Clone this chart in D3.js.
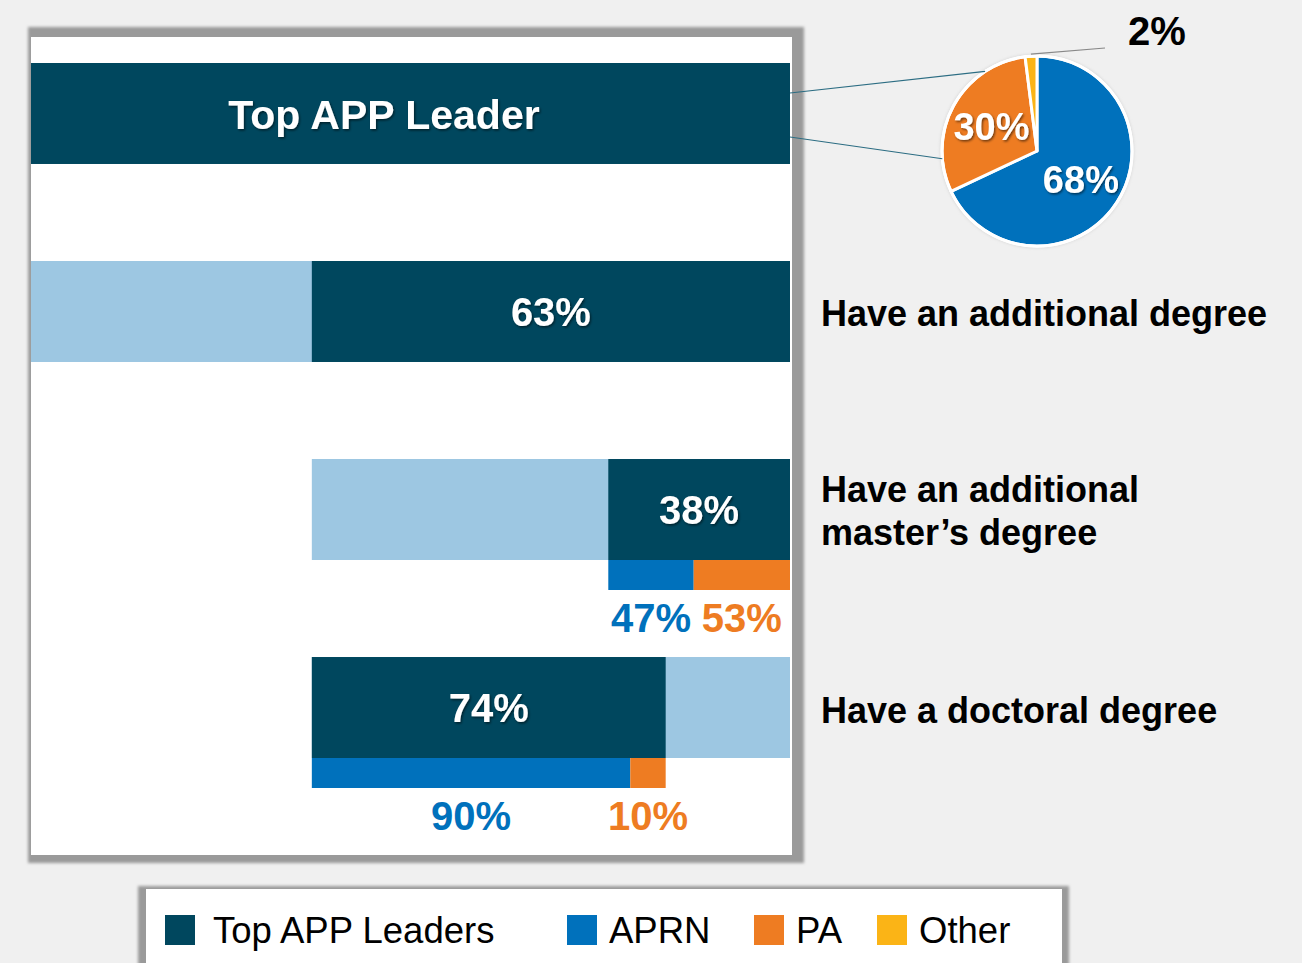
<!DOCTYPE html>
<html>
<head>
<meta charset="utf-8">
<script src="https://cdn.jsdelivr.net/npm/d3@7"></script>
<style>
  body { margin: 0; background: #f0f0f0; }
  svg { display: block; font-family: "Liberation Sans", Arial, sans-serif; }
</style>
</head>
<body>
<div id="chart"></div>
<script>
// Data
const headerLabel = "Top APP Leader";
const rowLabels = [["Have an additional degree"], ["Have an additional", "master’s degree"], ["Have a doctoral degree"]];
const rowShares = [0.63, 0.38, 0.74];          // share of the parent bar
const aprnSplit = [null, 0.47, 0.90];           // APRN share of the dark bar
const paSplit = [null, 0.53, 0.10];             // PA share of the dark bar
const pieLabels = ["APRN", "PA", "Other"];
const pieValues = [68, 30, 2];
const legendLabels = ["Top APP Leaders", "APRN", "PA", "Other"];

// Colors
const dark = "#00475e";
const light = "#9dc7e2";
const colors = { "Top APP Leaders": dark, "APRN": "#0071bc", "PA": "#ee7c22", "Other": "#fbb416" };

const width = 1302, height = 963;

const svg = d3.select("#chart").append("svg")
    .attr("width", width)
    .attr("height", height);

// text shadow + panel shadow filters
const defs = svg.append("defs");
const ts = defs.append("filter").attr("id", "tshadow").attr("x", "-10%").attr("y", "-20%").attr("width", "130%").attr("height", "150%");
ts.append("feDropShadow").attr("dx", 1.2).attr("dy", 1.5).attr("stdDeviation", 1.2)
    .attr("flood-color", "#000").attr("flood-opacity", 0.55);
const blur = defs.append("filter").attr("id", "blur").attr("x", "-5%").attr("y", "-5%").attr("width", "110%").attr("height", "110%");
blur.append("feGaussianBlur").attr("stdDeviation", 1.5);

// Panel
svg.append("rect").attr("x", 28).attr("y", 27).attr("width", 776).attr("height", 836)
    .attr("fill", "#9a9a9a").attr("filter", "url(#blur)");
svg.append("rect").attr("x", 31).attr("y", 37).attr("width", 761).attr("height", 818).attr("fill", "#fff");

// Scales
const x = d3.scaleLinear().domain([0, 1]).range([31, 790]);
const y = d3.scaleBand().domain([0, 1, 2, 3]).range([63, 758]).paddingInner(0.49).paddingOuter(0);
const bw = y.bandwidth();

// Header bar
svg.append("rect").attr("x", x(0)).attr("y", y(0)).attr("width", x(1) - x(0)).attr("height", bw).attr("fill", dark);
svg.append("text").attr("x", 384).attr("y", y(0) + bw / 2).attr("dy", "0.37em")
    .attr("text-anchor", "middle").attr("fill", "#fff").attr("font-weight", "bold")
    .attr("font-size", 41).attr("filter", "url(#tshadow)").text(headerLabel);

// Compute row spans
const spans = [];
const p0 = [0, 1];
const d1 = [1 - rowShares[0], 1];
spans.push({ parent: p0, dark: d1 });
const pw = d1[1] - d1[0];
spans.push({ parent: d1, dark: [1 - rowShares[1] * pw, 1] });
spans.push({ parent: d1, dark: [d1[0], d1[0] + rowShares[2] * pw] });

spans.forEach((s, i) => {
  const yy = y(i + 1);
  svg.append("rect").attr("x", x(s.parent[0])).attr("y", yy)
      .attr("width", x(s.parent[1]) - x(s.parent[0])).attr("height", bw).attr("fill", light);
  svg.append("rect").attr("x", x(s.dark[0])).attr("y", yy)
      .attr("width", x(s.dark[1]) - x(s.dark[0])).attr("height", bw).attr("fill", dark);
  svg.append("text").attr("x", (x(s.dark[0]) + x(s.dark[1])) / 2).attr("y", yy + bw / 2).attr("dy", "0.37em")
      .attr("text-anchor", "middle").attr("fill", "#fff").attr("font-weight", "bold")
      .attr("font-size", 40).attr("filter", "url(#tshadow)")
      .text(Math.round(rowShares[i] * 100) + "%");

  // right labels
  const lines = rowLabels[i];
  const lh = 43;
  const t = svg.append("text").attr("x", 821).attr("font-weight", "bold").attr("font-size", 36).attr("fill", "#000");
  lines.forEach((ln, j) => {
    t.append("tspan").attr("x", 821)
        .attr("y", yy + bw / 2 + 15 - (lines.length - 1) * lh / 2 + j * lh - (lines.length > 1 ? 1 : 0))
        .text(ln);
  });

  // APRN / PA split
  if (aprnSplit[i] != null) {
    const sx = d3.scaleLinear().domain([0, 1]).range([x(s.dark[0]), x(s.dark[1])]);
    const parts = [
      { name: "APRN", a: 0, b: aprnSplit[i] },
      { name: "PA", a: aprnSplit[i], b: aprnSplit[i] + paSplit[i] }
    ];
    parts.forEach(p => {
      svg.append("rect").attr("x", sx(p.a)).attr("y", yy + bw)
          .attr("width", sx(p.b) - sx(p.a)).attr("height", 30).attr("fill", colors[p.name]);
      svg.append("text").attr("x", (sx(p.a) + sx(p.b)) / 2).attr("y", yy + bw + 72)
          .attr("text-anchor", "middle").attr("font-weight", "bold").attr("font-size", 40)
          .attr("fill", colors[p.name])
          .text(Math.round((p.b - p.a) * 100) + "%");
    });
  }
});

// Pie
const cx = 1037, cy = 151, r = 95;
const pie = d3.pie().sort(null).value(d => d)(pieValues);
const arc = d3.arc().innerRadius(0).outerRadius(r);
const labelArc = d3.arc().innerRadius(52).outerRadius(52);
const g = svg.append("g").attr("transform", `translate(${cx},${cy})`);

// connectors from header bar to the PA slice
const pa = pie[1];
const rimPoint = (ang) => [cx + r * Math.sin(ang), cy - r * Math.cos(ang)];
const c1 = rimPoint(pa.startAngle + (pa.endAngle - pa.startAngle) * 0.76);
const c2 = rimPoint(pa.startAngle + (pa.endAngle - pa.startAngle) * 0.19);
svg.append("line").attr("x1", x(1)).attr("y1", 93).attr("x2", c1[0]).attr("y2", c1[1])
    .attr("stroke", "#2c6d83").attr("stroke-width", 1.2);
svg.append("line").attr("x1", x(1)).attr("y1", 137).attr("x2", c2[0]).attr("y2", c2[1])
    .attr("stroke", "#2c6d83").attr("stroke-width", 1.2);

g.append("circle").attr("r", r + 2).attr("fill", "#d8d8d8").attr("filter", "url(#blur)");
g.selectAll("path.slice").data(pie).join("path")
    .attr("class", "slice")
    .attr("d", arc)
    .attr("fill", (d, i) => colors[pieLabels[i]])
    .attr("stroke", "#fff").attr("stroke-width", 3).attr("stroke-linejoin", "round");
g.append("circle").attr("r", r).attr("fill", "none").attr("stroke", "#fff").attr("stroke-width", 3);

g.selectAll("text.plab").data(pie.slice(0, 2)).join("text")
    .attr("class", "plab")
    .attr("transform", d => `translate(${labelArc.centroid(d)})`)
    .attr("dy", "0.36em").attr("text-anchor", "middle")
    .attr("fill", "#fff").attr("font-weight", "bold").attr("font-size", 38)
    .attr("filter", "url(#tshadow)")
    .text(d => d.data + "%");

// small slice label with leader
const oth = pie[2];
const om = (oth.startAngle + oth.endAngle) / 2;
svg.append("line")
    .attr("x1", cx + (r + 2) * Math.sin(om)).attr("y1", cy - (r + 2) * Math.cos(om))
    .attr("x2", 1105).attr("y2", 48)
    .attr("stroke", "#888").attr("stroke-width", 1.2);
svg.append("text").attr("x", 1128).attr("y", 45)
    .attr("font-weight", "bold").attr("font-size", 40).attr("fill", "#000")
    .text(oth.data + "%");

// Legend
svg.append("rect").attr("x", 138).attr("y", 886).attr("width", 931).attr("height", 90)
    .attr("fill", "#9a9a9a").attr("filter", "url(#blur)");
svg.append("rect").attr("x", 146).attr("y", 889).attr("width", 916).attr("height", 80).attr("fill", "#fff");
const legendX = [165, 567, 754, 877];
const legend = svg.selectAll("g.leg").data(legendLabels).join("g")
    .attr("class", "leg")
    .attr("transform", (d, i) => `translate(${legendX[i]},915)`);
legend.append("rect").attr("width", 30).attr("height", 30).attr("fill", d => colors[d]);
legend.append("text").attr("x", (d, i) => i === 0 ? 48 : 42).attr("y", 28)
    .attr("font-size", 36.5).attr("fill", "#000").text(d => d);
</script>
</body>
</html>
